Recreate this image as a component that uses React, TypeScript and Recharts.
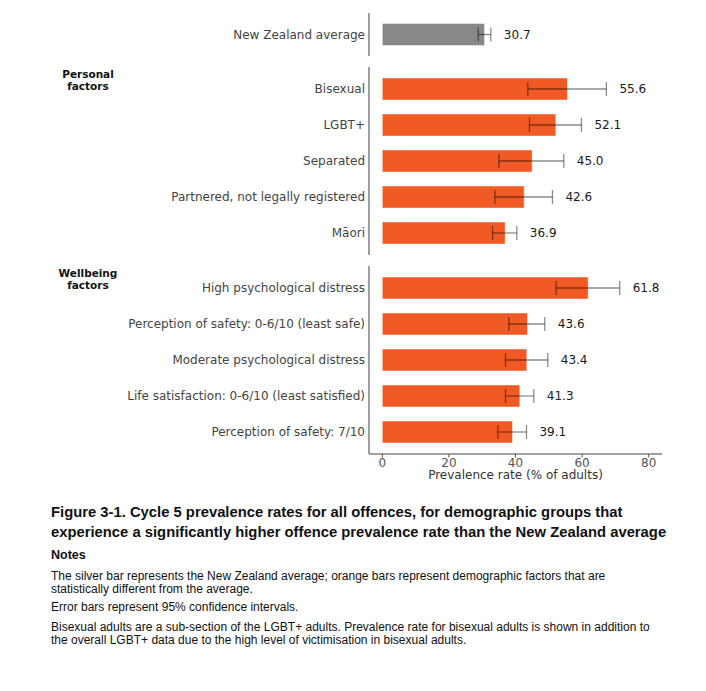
import React from 'react';
import { BarChart, Bar, XAxis, YAxis, ErrorBar, LabelList } from 'recharts';

const avgCategories = ['New Zealand average'];
const avgValues = [30.7];
const avgLow = [28.8];
const avgHigh = [32.6];

const personalCategories = ['Bisexual', 'LGBT+', 'Separated', 'Partnered, not legally registered', 'Māori'];
const personalValues = [55.6, 52.1, 45.0, 42.6, 36.9];
const personalLow = [43.7, 44.2, 35.0, 33.8, 33.1];
const personalHigh = [67.3, 59.8, 54.5, 51.1, 40.4];

const wellbeingCategories = [
  'High psychological distress',
  'Perception of safety: 0-6/10 (least safe)',
  'Moderate psychological distress',
  'Life satisfaction: 0-6/10 (least satisfied)',
  'Perception of safety: 7/10',
];
const wellbeingValues = [61.8, 43.6, 43.4, 41.3, 39.1];
const wellbeingLow = [52.2, 38.0, 37.0, 37.0, 34.7];
const wellbeingHigh = [71.3, 48.8, 49.7, 45.5, 43.3];

const xTicks = [0, 20, 40, 60, 80];
const xDomain = [-4, 84];

type Row = { name: string; value: number; err: [number, number]; high: number };

const buildRows = (cats: string[], vals: number[], lo: number[], hi: number[]): Row[] =>
  cats.map((name, i) => ({
    name,
    value: vals[i],
    err: [vals[i] - lo[i], hi[i] - vals[i]],
    high: hi[i],
  }));

const avgRows = buildRows(avgCategories, avgValues, avgLow, avgHigh);
const personalRows = buildRows(personalCategories, personalValues, personalLow, personalHigh);
const wellbeingRows = buildRows(wellbeingCategories, wellbeingValues, wellbeingLow, wellbeingHigh);

const FONT = '"DejaVu Sans", sans-serif';
const ORANGE = '#F15A24';
const GREY = '#888888';

const makeLabel = (rows: Row[]) => (props: any) => {
  const { x, y, width, height, index } = props;
  const r = rows[index];
  if (!r) return null;
  const px = Number(width) / r.value;
  const end = Number(x) + px * Math.max(r.value, r.high);
  return (
    <text x={end + 13} y={Number(y) + Number(height) / 2} dy="0.36em" fontSize={12} fill="#1a1a1a" fontFamily={FONT}>
      {r.value.toFixed(1)}
    </text>
  );
};

type PanelProps = {
  rows: Row[];
  color: string;
  top: number;
  plotHeight: number;
  padTop: number;
  padBottom: number;
  showX?: boolean;
};

const Panel = ({ rows, color, top, plotHeight, padTop, padBottom, showX }: PanelProps) => {
  const xAxisH = showX ? 28 : 0;
  return (
    <div style={{ position: 'absolute', left: 0, top }}>
      <BarChart
        layout="vertical"
        width={706}
        height={plotHeight + xAxisH}
        data={rows}
        margin={{ top: 0, right: 44, bottom: 0, left: 0 }}
      >
        <XAxis
          type="number"
          domain={xDomain}
          ticks={xTicks}
          allowDataOverflow
          hide={!showX}
          height={xAxisH}
          axisLine={{ stroke: '#444', strokeWidth: 1.2 }}
          tickLine={{ stroke: '#555' }}
          tickSize={3.5}
          tickMargin={0.5}
          tick={{ fill: '#555', fontSize: 12, fontFamily: FONT }}
          label={{
            value: 'Prevalence rate (% of adults)',
            position: 'insideBottom',
            offset: 3,
            fill: '#333',
            fontSize: 12,
            fontFamily: FONT,
          }}
        />
        <YAxis
          type="category"
          dataKey="name"
          width={369}
          padding={{ top: padTop, bottom: padBottom }}
          axisLine={{ stroke: '#777', strokeWidth: 1.4 }}
          tickLine={false}
          tickSize={0}
          tickMargin={4}
          interval={0}
          tick={{ fill: '#444', fontSize: 12, fontFamily: FONT }}
        />
        <Bar
          dataKey="value"
          fill={color}
          barSize={22}
          stroke="rgba(255,255,255,0.45)"
          strokeWidth={1}
          isAnimationActive={false}
        >
          <ErrorBar
            dataKey="err"
            direction="x"
            width={7}
            stroke="#000"
            strokeOpacity={0.45}
            strokeWidth={1.3}
          />
          <LabelList dataKey="value" content={makeLabel(rows)} />
        </Bar>
      </BarChart>
    </div>
  );
};

const textLine = (top: number, content: string, style: React.CSSProperties) => (
  <div
    style={{
      position: 'absolute',
      left: 51,
      top: top - 8,
      lineHeight: '16px',
      whiteSpace: 'nowrap',
      fontFamily: '"Liberation Sans", Arial, sans-serif',
      color: '#111',
      ...style,
    }}
  >
    {content}
  </div>
);

export default function App() {
  const title = { fontSize: 14.8, fontWeight: 700 } as React.CSSProperties;
  const note = { fontSize: 12 } as React.CSSProperties;
  return (
    <div style={{ position: 'absolute', left: 0, top: 0, width: 706, height: 691, background: '#fff' }}>
      <Panel rows={avgRows} color={GREY} top={13} plotHeight={43} padTop={3.5} padBottom={3.5} />
      <Panel rows={personalRows} color={ORANGE} top={67} plotHeight={188} padTop={4} padBottom={4} />
      <Panel rows={wellbeingRows} color={ORANGE} top={266} plotHeight={188} padTop={4} padBottom={4} showX />

      <div
        style={{
          position: 'absolute',
          left: 38,
          width: 100,
          top: 69,
          textAlign: 'center',
          fontFamily: FONT,
          fontWeight: 700,
          fontSize: 10.5,
          lineHeight: '11.5px',
          color: '#111',
        }}
      >
        Personal
        <br />
        factors
      </div>
      <div
        style={{
          position: 'absolute',
          left: 38,
          width: 100,
          top: 268,
          textAlign: 'center',
          fontFamily: FONT,
          fontWeight: 700,
          fontSize: 10.5,
          lineHeight: '11.5px',
          color: '#111',
        }}
      >
        Wellbeing
        <br />
        factors
      </div>

      {textLine(512, 'Figure 3-1. Cycle 5 prevalence rates for all offences, for demographic groups that', title)}
      {textLine(532, 'experience a significantly higher offence prevalence rate than the New Zealand average', title)}
      {textLine(555, 'Notes', { fontSize: 12.5, fontWeight: 700 })}
      {textLine(576, 'The silver bar represents the New Zealand average; orange bars represent demographic factors that are', note)}
      {textLine(589, 'statistically different from the average.', note)}
      {textLine(607, 'Error bars represent 95% confidence intervals.', note)}
      {textLine(627, 'Bisexual adults are a sub-section of the LGBT+ adults. Prevalence rate for bisexual adults is shown in addition to', note)}
      {textLine(640, 'the overall LGBT+ data due to the high level of victimisation in bisexual adults.', note)}
    </div>
  );
}
